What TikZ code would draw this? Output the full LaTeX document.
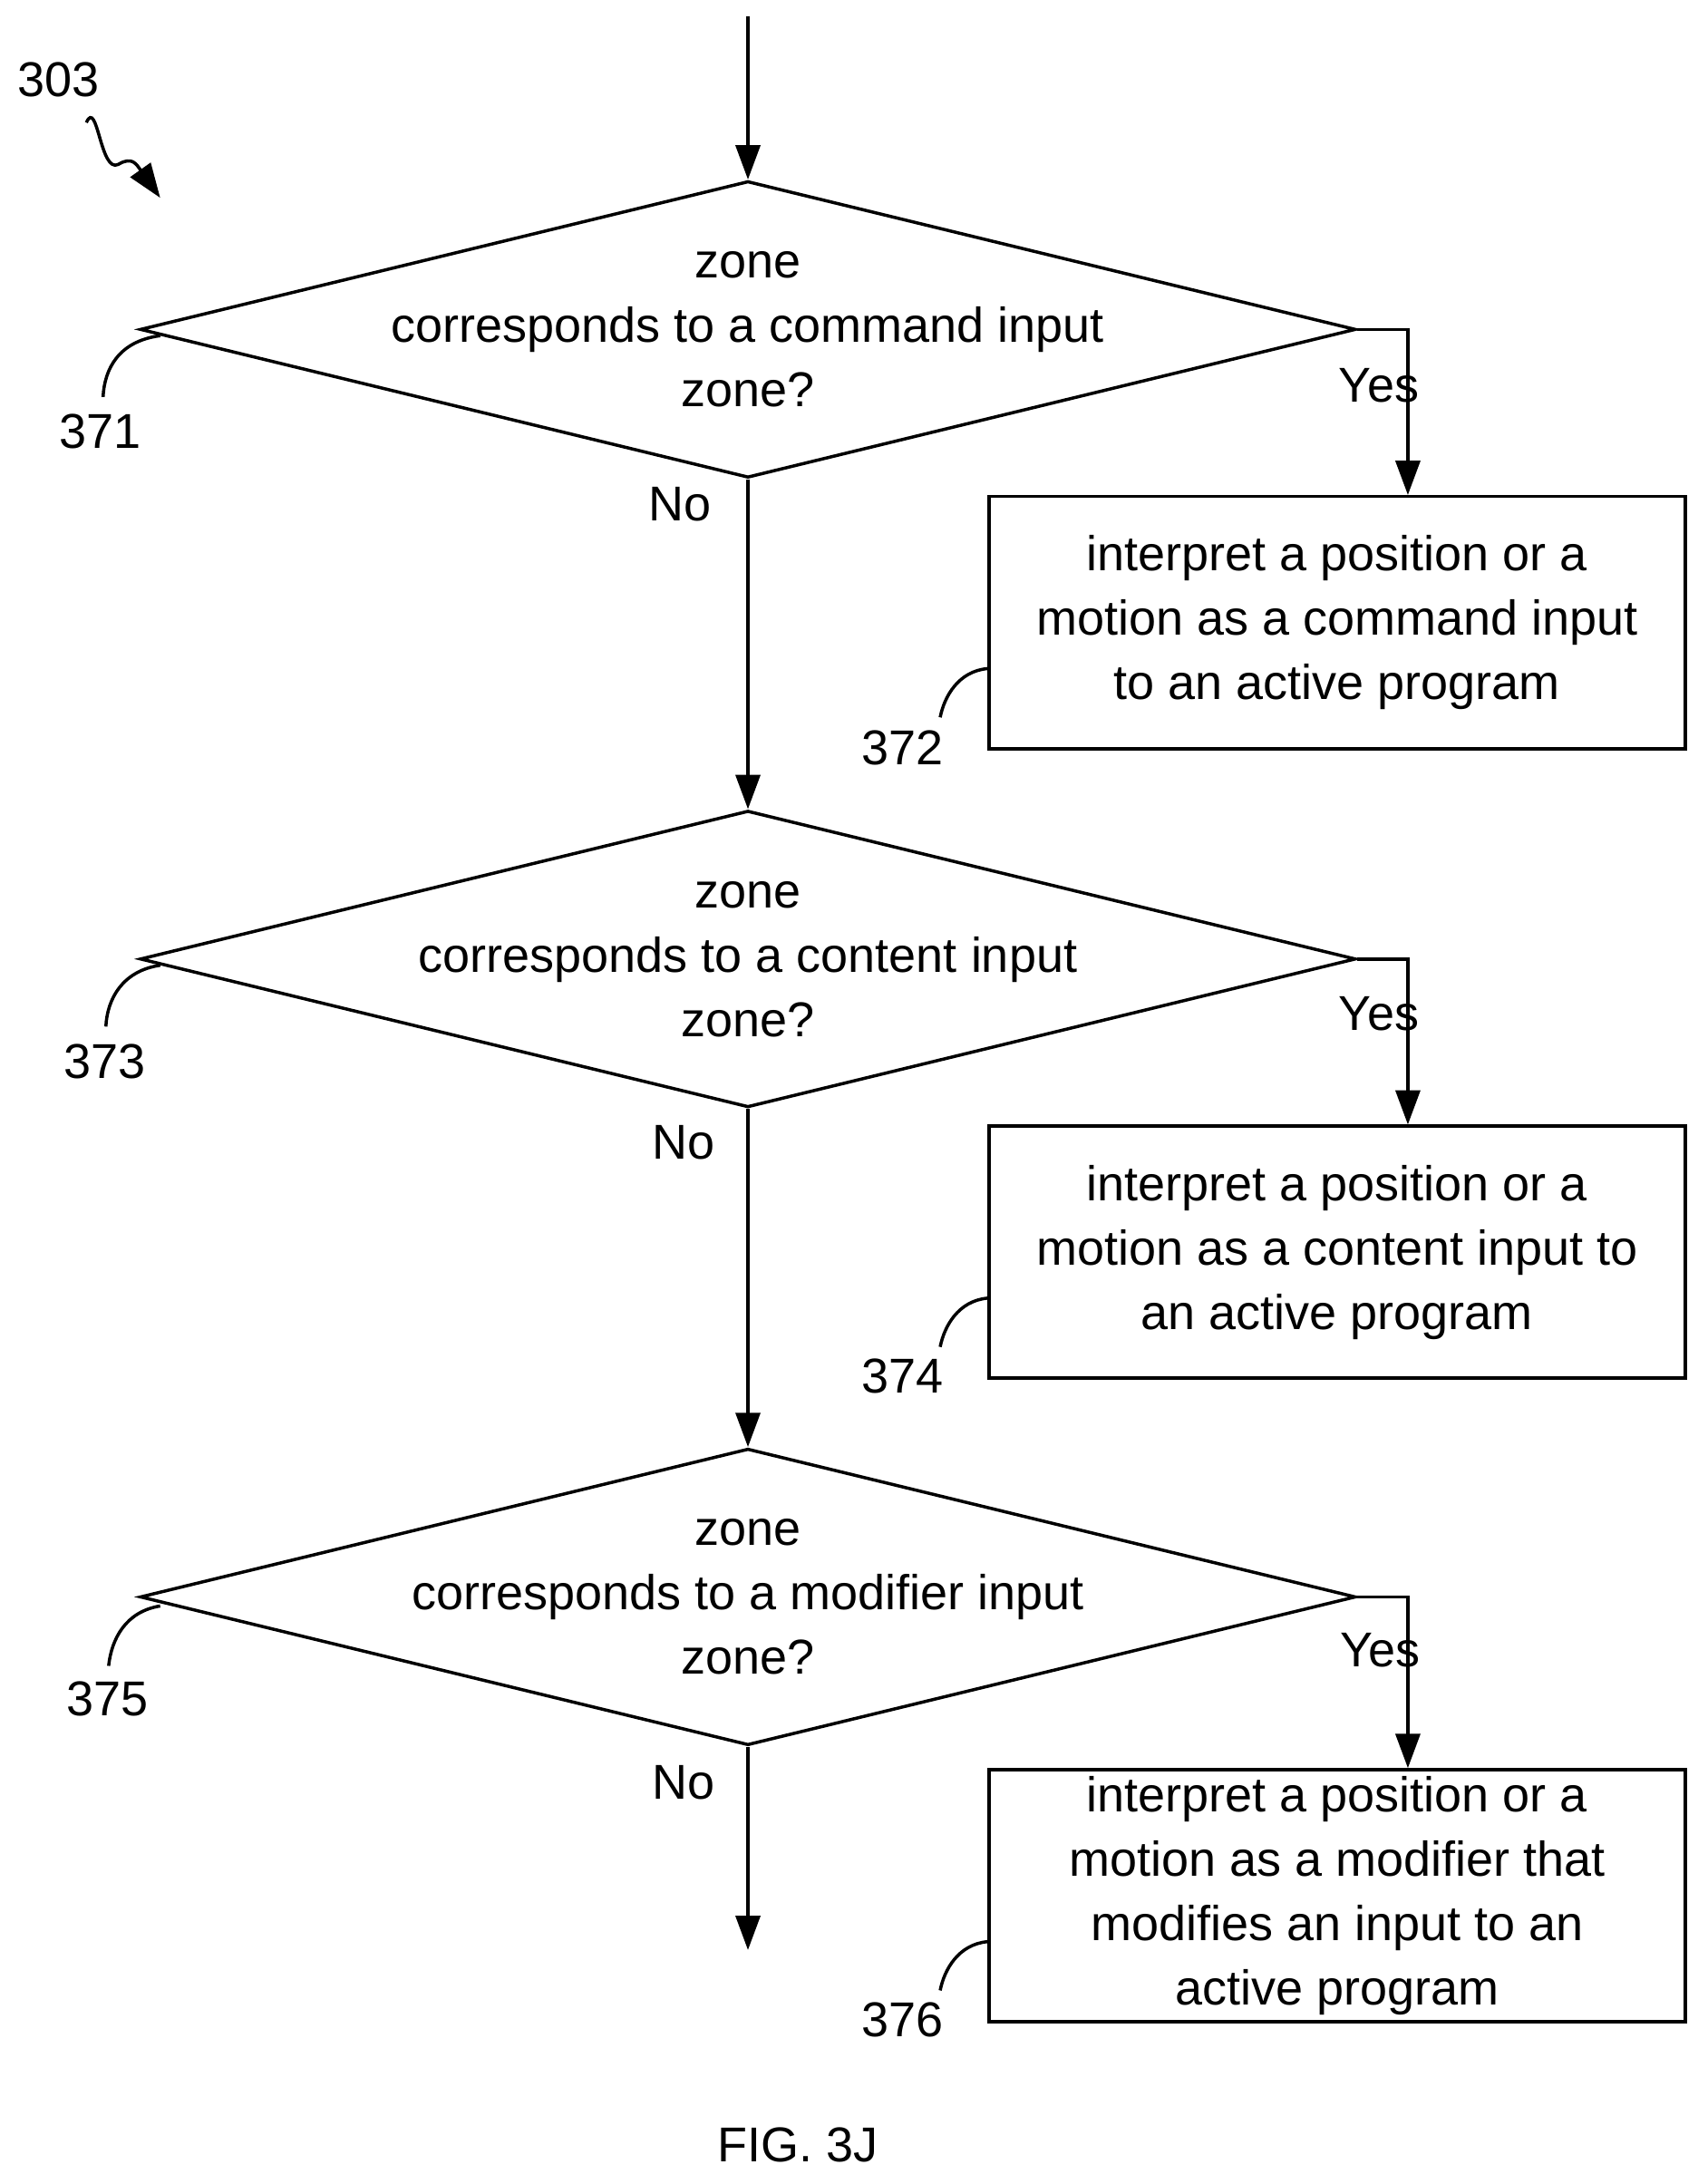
\documentclass[tikz,border=0pt]{standalone}
\usepackage{fontspec}
\setmainfont{Liberation Sans}
\usetikzlibrary{shapes.geometric,arrows.meta}
\tikzset{
  dia/.style={draw,line width=1.3pt,diamond,aspect=4.1,minimum width=17.46cm,minimum height=4.26cm,inner sep=0pt},
  box/.style={draw,line width=1.3pt,rectangle,minimum width=10cm,minimum height=3.62cm,align=center,inner sep=0pt},
  txt/.style={align=center,font=\fontsize{20}{26.3}\selectfont},
  lbl/.style={font=\fontsize{20}{24}\selectfont},
  arr/.style={line width=1.3pt,-{Triangle[length=14pt,width=10pt]}},
  ln/.style={line width=1.3pt}
}
\begin{document}
\begin{tikzpicture}[x=0.02cm,y=-0.02cm]
\useasboundingbox (0,0) rectangle (1226,1568);

% reference number
\node[lbl] (n303) at (42,57) {303};
\draw[arr] (62,88) .. controls (70,70) and (72,125) .. (85,118) .. controls (95,112) and (98,118) .. (115,142);

% start
\coordinate (start) at (537,12);

% decisions
\node[dia] (d1) at (537,236.5) {};
\node[txt] at (d1) {zone\\corresponds to a command input\\zone?};
\node[dia] (d2) at (537,688.5) {};
\node[txt] at (d2) {zone\\corresponds to a content input\\zone?};
\node[dia] (d3) at (537,1146.5) {};
\node[txt] at (d3) {zone\\corresponds to a modifier input\\zone?};

% actions
\node[box,txt] (b1) at (960,447) {interpret a position or a\\motion as a command input\\to an active program};
\node[box,txt] (b2) at (960,899) {interpret a position or a\\motion as a content input to\\an active program};
\node[box,txt] (b3) at (960,1361) {interpret a position or a\\motion as a modifier that\\modifies an input to an\\active program};
\coordinate (end) at (537,1400);

% connectors
\draw[arr] (start) -- (d1.north);
\draw[arr] (d1.south) -- (d2.north);
\draw[arr] (d2.south) -- (d3.north);
\draw[arr] (d3.south) -- (end);
\draw[arr] (d1.east) -| ([xshift=-114pt]b1.north east);
\draw[arr] (d2.east) -| ([xshift=-114pt]b2.north east);
\draw[arr] (d3.east) -| ([xshift=-114pt]b3.north east);

% yes / no
\node[lbl] at (990,277) {Yes};
\node[lbl] at (990,728) {Yes};
\node[lbl] at (991,1185) {Yes};
\node[lbl] at (488,362) {No};
\node[lbl] at (491,820) {No};
\node[lbl] at (491,1280) {No};

% leaders
\node[lbl] (n371) at (72,310) {371};
\draw[ln] (115,241) .. controls (85,245) and (75,265) .. (74,285);
\node[lbl] (n373) at (75,762) {373};
\draw[ln] (115,693) .. controls (88,697) and (77,717) .. (76,737);
\node[lbl] (n375) at (77,1220) {375};
\draw[ln] (115,1153) .. controls (90,1157) and (80,1177) .. (78,1196);
\node[lbl] (n372) at (648,537) {372};
\draw[ln] (b1.west|-0,480) .. controls (688,482) and (678,500) .. (675,515);
\node[lbl] (n374) at (648,988) {374};
\draw[ln] (b2.west|-0,932) .. controls (688,934) and (678,952) .. (675,967);
\node[lbl] (n376) at (648,1450) {376};
\draw[ln] (b3.west|-0,1394) .. controls (688,1396) and (678,1414) .. (675,1429);

% caption
\node[lbl] (cap) at (573,1540) {FIG. 3J};
\end{tikzpicture}
\end{document}
